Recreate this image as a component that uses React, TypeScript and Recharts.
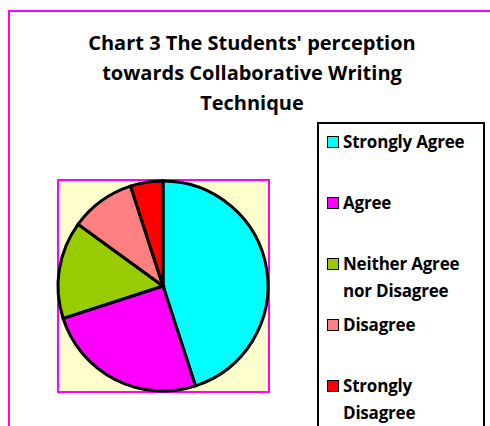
import React from "react";
import { PieChart, Pie, Cell, Legend } from "recharts";

const categories = [
  "Strongly Agree",
  "Agree",
  "Neither Agree nor Disagree",
  "Disagree",
  "Strongly Disagree",
];
const percents = [45, 25, 15, 10, 5];
const colors = ["#00FFFF", "#FF00FF", "#99CC00", "#FF8080", "#FF0000"];
const titleLines = [
  "Chart 3 The Students' perception",
  "towards Collaborative Writing",
  "Technique",
];

const data = categories.map((name, i) => ({ name, value: percents[i] }));

const FONT = "'Open Sans', Lato, sans-serif";

function LegendBox() {
  return (
    <div
      style={{
        width: 168,
        height: 320,
        border: "2px solid #000",
        background: "#fff",
        boxSizing: "border-box",
        paddingTop: 4,
        fontFamily: FONT,
        fontWeight: 700,
        fontSize: 17,
        lineHeight: "27px",
        color: "#000",
        textAlign: "left",
      }}
    >
      {data.map((d, i) => (
        <div
          key={d.name}
          style={{ height: 61, display: "flex", alignItems: "flex-start" }}
        >
          <span
            style={{
              width: 10,
              height: 10,
              marginLeft: 8,
              marginTop: 8,
              marginRight: 4,
              background: colors[i],
              border: "1.5px solid #000",
              flexShrink: 0,
            }}
          />
          <span style={{ width: 138, letterSpacing: -0.2 }}>{d.name}</span>
        </div>
      ))}
    </div>
  );
}

export default function App() {
  return (
    <div
      style={{
        position: "fixed",
        left: 0,
        top: 0,
        width: 490,
        height: 426,
        overflow: "hidden",
        background: "#fff",
      }}
    >
      {/* chart area border, runs off the right and bottom edge */}
      <div
        style={{
          position: "absolute",
          left: 8,
          top: 10,
          width: 700,
          height: 700,
          border: "2.5px solid #FF00FF",
        }}
      />
      {/* plot area */}
      <div
        style={{
          position: "absolute",
          left: 57,
          top: 179,
          width: 209,
          height: 210,
          background: "#FFFFCC",
          border: "2px solid #FF00FF",
        }}
      />
      <div
        style={{
          position: "absolute",
          left: 52,
          top: 28,
          width: 400,
          textAlign: "center",
          fontFamily: FONT,
          fontWeight: 700,
          fontSize: 20,
          lineHeight: "30px",
          color: "#000",
        }}
      >
        {titleLines.map((t) => (
          <div key={t}>{t}</div>
        ))}
      </div>
      <div style={{ position: "absolute", left: 0, top: 0 }}>
        <PieChart width={490} height={426} margin={{ top: 0, right: 0, bottom: 0, left: 0 }}>
          <Pie
            data={data}
            dataKey="value"
            nameKey="name"
            cx={163}
            cy={286}
            outerRadius={105}
            startAngle={90}
            endAngle={-270}
            stroke="#000"
            strokeWidth={3}
            isAnimationActive={false}
          >
            {data.map((d, i) => (
              <Cell key={d.name} fill={colors[i]} />
            ))}
          </Pie>
          <Legend
            layout="vertical"
            content={() => <LegendBox />}
            wrapperStyle={{
              position: "absolute",
              left: 317,
              top: 122,
              width: 168,
              height: 320,
              margin: 0,
            }}
          />
        </PieChart>
      </div>
    </div>
  );
}
